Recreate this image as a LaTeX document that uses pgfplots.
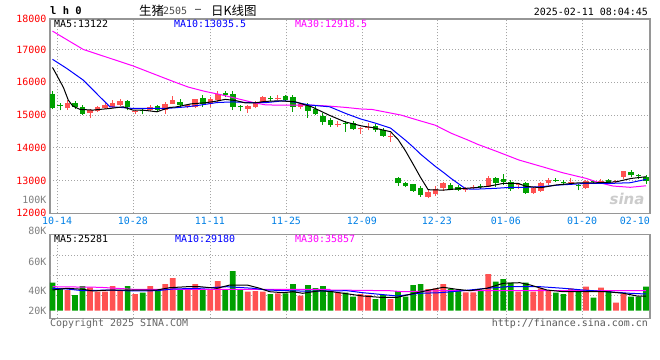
\documentclass[border=0pt]{standalone}
\usepackage{fontspec}
\setmonofont{DejaVu Sans Mono}
\newfontfamily\cjk{Noto Sans CJK SC}
\newfontfamily\dvs{DejaVu Sans}
\newfontfamily\dvsmb{DejaVu Sans Mono Bold}
\usepackage{pgfplots}
\usepackage{pgfplotstable}
\pgfplotsset{compat=1.18}
\definecolor{cred}{RGB}{255,82,82}
\definecolor{cgreen}{RGB}{0,160,0}
\definecolor{cblue}{RGB}{0,0,255}
\definecolor{cmag}{RGB}{255,0,255}
\definecolor{datec}{RGB}{0,128,230}
\definecolor{bord}{RGB}{150,150,150}
\definecolor{gridc}{RGB}{165,165,165}

\pgfplotstableread{
i o c h l
2 15200 15370 15450 15160
5 15060 15160 15190 14915
6 15110 15240 15270 15090
7 15220 15310 15360 15190
8 15240 15360 15460 15210
9 15310 15420 15490 15270
11 15080 15110 15160 15020
13 15160 15250 15290 15120
15 15150 15350 15390 15040
16 15330 15445 15580 15330
18 15230 15290 15310 15200
19 15230 15475 15500 15200
21 15330 15490 15540 15240
22 15450 15630 15720 15390
26 15190 15270 15310 15060
27 15230 15390 15420 15200
28 15400 15550 15580 15370
30 15490 15520 15600 15450
33 15230 15330 15380 15180
38 14700 14730 14820 14630
41 14560 14610 14640 14420
42 14600 14630 14770 14530
45 14330 14360 14440 14190
50 12506 12659 12740 12457
51 12580 12732 12830 12520
52 12770 12910 12950 12690
55 12720 12750 12811 12660
56 12770 12800 12860 12730
58 12811 13067 13130 12790
62 12850 12880 12920 12740
64 12628 12762 12790 12590
65 12690 12915 12955 12665
66 12915 13015 13067 12863
69 12930 12960 13067 12870
71 12775 12985 13010 12750
73 12950 12980 13040 12900
75 12970 13000 13030 12920
76 13116 13290 13290 13050
}\redc

\pgfplotstableread{
i o c h l
0 15630 15220 15740 15170
1 15290 15260 15360 15140
3 15360 15240 15415 15190
4 15240 15040 15290 14990
10 15420 15240 15470 15140
12 15140 15110 15190 15020
14 15270 15150 15310 15110
17 15390 15290 15475 15240
20 15510 15330 15600 15240
23 15660 15620 15730 15540
24 15630 15240 15740 15150
25 15260 15230 15310 15110
29 15510 15480 15590 15430
31 15590 15450 15610 15430
32 15560 15250 15610 15100
34 15300 15130 15360 14920
35 15170 15030 15260 14990
36 14970 14780 15050 14700
37 14840 14700 14920 14630
39 14770 14740 14810 14490
40 14770 14580 14830 14550
43 14670 14540 14720 14490
44 14540 14365 14600 14340
46 13076 12924 13116 12840
47 12933 12833 12960 12790
48 12890 12690 12900 12660
49 12780 12545 12840 12505
53 12863 12732 12910 12700
54 12811 12710 12850 12680
57 12840 12810 12890 12730
59 13067 12933 13116 12811
60 13037 12963 13198 12863
61 12963 12732 13015 12695
63 12915 12628 12955 12590
67 13020 12990 13067 12950
68 12960 12930 13030 12870
70 12860 12830 12900 12700
72 12975 12945 13000 12890
74 13015 12915 13050 12890
77 13260 13160 13310 13110
78 13165 13135 13200 13050
79 13116 12990 13180 12900
}\greenc

\pgfplotstableread{
i v
2 20.7
5 23.4
6 19
7 19
8 24.7
9 20.7
11 16.7
13 24.7
15 26.7
16 32.7
18 21.4
19 26.7
21 21.4
22 29.7
26 19
27 19.7
28 19
30 17.4
33 15
38 18
41 16.7
42 15.7
45 11.7
50 21.7
51 22.4
52 26.7
55 18.4
56 18.4
58 36.7
62 19
64 19
65 22.4
66 20.7
69 22.4
71 24
73 23
75 8
76 16.7
}\redv

\pgfplotstableread{
i v
0 28
1 22.4
3 15.7
4 24.7
10 24.7
12 18
14 20.7
17 21.4
20 21.4
23 21.4
24 39.7
25 21.4
29 16.7
31 17.4
32 26.7
34 25.7
35 22.7
36 24.7
37 19.7
39 18
40 14
43 11.7
44 15.7
46 19.7
47 14
48 25.7
49 26.7
53 21.7
54 20.7
57 19.7
59 29
60 31.7
61 28
63 28
67 18
68 16.7
70 20
72 13
74 19.7
77 14
78 14
79 24
}\greenv

\pgfplotstableread{
i y
0 16450
0.33 16317
1.45 15842
2.1 15455
2.7 15272
3.66 15171
5.4 15150
7.65 15200
9.4 15250
10.7 15150
12 15150
13.9 15098
15.6 15232
16.3 15240
18.5 15342
20.3 15372
21.6 15415
23 15476
24.3 15445
25.6 15372
27 15372
28.3 15415
30.1 15433
32.3 15403
34.5 15250
36.8 14997
38.9 14793
41.2 14662
42.5 14620
45 14490
46 14250
47 13900
48 13500
49 13090
50 12720
52 12707
54 12749
56 12776
58 12823
60 12913
62 12912
63 12824
65 12780
67 12863
70 12930
72 12928
75 12959
77 13063
79 13116
}\mafive

\pgfplotstableread{
i y
0 16700
1.9 16421
4.1 16064
6.3 15555
7.65 15250
9 15232
10.7 15200
13 15200
15.2 15200
17.9 15250
19.6 15300
21.9 15380
24 15400
26.3 15380
28.5 15380
30.7 15433
32 15403
34.3 15302
36.9 15250
39 15049
41 14880
43 14750
45 14600
46 14413
47 14226
48 14023
49 13804
50 13612
51 13424
52 13254
53 13073
54 12908
55 12748
56 12734
59 12762
61 12793
63 12793
65 12811
67.4 12863
69.7 12893
71 12915
74.6 12915
76.9 12933
79 13035
}\maten

\pgfplotstableread{
i y
0 17560
4.1 17000
10.7 16500
15.2 16100
16.3 16003
18.1 15850
20.3 15720
22.5 15616
24.7 15494
26.9 15372
28.3 15311
30 15300
34.5 15302
36.8 15272
39 15232
41.2 15180
42.5 15171
46.4 14997
48.6 14845
50.9 14692
53.1 14440
55.3 14235
56.6 14104
59 13900
62.1 13625
65.2 13421
67.9 13238
71 13067
72.8 12933
74.6 12832
76.9 12793
79 12840
}\mathirty

\begin{document}
\begin{tikzpicture}
\fill[white] (0,0) rectangle (660bp,360bp);
\useasboundingbox (0,0) rectangle (660bp,360bp);

\begin{axis}[
  at={(50bp,146.7bp)}, anchor=south west, scale only axis,
  width=600bp, height=194.3bp,
  xmin=-0.333, xmax=79.53, ymin=12000, ymax=17930,
  scaled ticks=false,
  axis line style={draw=bord, line width=1.5bp},
  major tick length=0pt, tick style={draw=none},
  xtick={0.60,10.71,20.96,31.08,41.19,51.17,60.35,70.48},
  xticklabels={10-14,10-28,11-11,11-25,12-09,12-23,01-06,01-20},
  extra x ticks={77.53}, extra x tick labels={02-10},
  extra x tick style={xmajorgrids=false},
  ytick={12000,13000,14000,15000,16000,17000},
  yticklabels={12000,13000,14000,15000,16000,17000},
  extra y ticks={12405,17930},
  extra y tick labels={\textcolor{gray}{100K},18000},
  extra y tick style={ymajorgrids=false},
  xmajorgrids=true, ymajorgrids=true,
  major grid style={draw=gridc, dash pattern=on 1bp off 2bp, line width=0.8bp},
  tick label style={font=\ttfamily\fontsize{10}{12}\selectfont},
  xticklabel style={text=datec},
  yticklabel style={text=red},
]
\addplot[draw=none, mark=none, forget plot, error bars/.cd, y dir=plus, y explicit, error mark=none,
  error bar style={draw=cred, solid, line width=1bp}]
  table[x=i, y=l, y error expr=\thisrow{h}-\thisrow{l}] {\redc};
\addplot[draw=none, mark=none, forget plot, error bars/.cd, y dir=plus, y explicit, error mark=none,
  error bar style={draw=cred, solid, line width=5.5bp}]
  table[x=i, y=o, y error expr=\thisrow{c}-\thisrow{o}] {\redc};
\addplot[draw=none, mark=none, forget plot, error bars/.cd, y dir=plus, y explicit, error mark=none,
  error bar style={draw=cgreen, solid, line width=1bp}]
  table[x=i, y=l, y error expr=\thisrow{h}-\thisrow{l}] {\greenc};
\addplot[draw=none, mark=none, forget plot, error bars/.cd, y dir=plus, y explicit, error mark=none,
  error bar style={draw=cgreen, solid, line width=5.5bp}]
  table[x=i, y=c, y error expr=\thisrow{o}-\thisrow{c}] {\greenc};
\addplot[cmag, line width=1bp, mark=none] table[x=i,y=y] {\mathirty};
\addplot[cblue, line width=1bp, mark=none] table[x=i,y=y] {\maten};
\addplot[black, line width=1bp, mark=none] table[x=i,y=y] {\mafive};
\end{axis}

\begin{axis}[
  at={(50bp,41.7bp)}, anchor=south west, scale only axis,
  width=600bp, height=84bp,
  xmin=-0.333, xmax=79.53, ymin=-7.6, ymax=76.4,
  scaled ticks=false,
  axis line style={draw=bord, line width=1.5bp},
  major tick length=0pt, tick style={draw=none},
  xtick={0.60,10.71,20.96,31.08,41.19,51.17,60.35,70.48},
  xticklabels={,,,,,,,},
  ytick={74.7,43.7,14.7,-5.3},
  yticklabels={80K,60K,40K,20K},
  yticklabel style={text=gray, yshift=5bp},
  extra y ticks={15.7,35.7,55.7}, extra y tick labels={,,},
  extra y tick style={ymajorgrids=true},
  xmajorgrids=true, ymajorgrids=false,
  major grid style={draw=gridc, dash pattern=on 1bp off 2bp, line width=0.8bp},
  tick label style={font=\ttfamily\fontsize{10}{12}\selectfont},
]
\addplot[ybar, bar width=5.7bp, bar shift=0pt, fill=cred, draw=none] table[x=i,y=v] {\redv};
\addplot[ybar, bar width=5.7bp, bar shift=0pt, fill=cgreen, draw=none] table[x=i,y=v] {\greenv};
\addplot[cmag, line width=1bp, mark=none] table {
0 24
6.3 23.4
10.7 21.4
19.6 21.4
28.5 21.4
36.9 21.4
37 20.7
44.9 20
46.6 19
51.6 20
58.2 20
79 20
};
\addplot[cblue, line width=1bp, mark=none] table {
0 22.4
1.9 21.7
4.1 20
7.65 20.7
10.7 19.7
13.9 20
16 21.7
19.6 22.4
23.2 24
26.7 22.4
28.5 20.7
31.2 20
32.9 19.7
35.6 19.7
39.2 20
41.3 18
45.9 14.7
48.9 17.4
51.6 18
54.6 20
57.8 22.4
60.5 24
64.9 24
68 22.4
70.6 20.7
73.8 19
76.9 17.4
79 16.7
};
\addplot[black, line width=1bp, mark=none] table {
0 20.7
1.9 22.4
4.1 21.4
5.4 19.7
7.65 20.7
10.7 20.7
13.9 20.7
15.6 23
17.9 24
19.6 24
21.9 22.4
23.6 25.7
25.9 25.7
27.6 22.4
28.9 19
30.7 18
32 19
33.3 17.4
35.6 20
37.2 19
41.3 14.7
43.6 13.4
45.9 13.4
48.5 18
50.2 20.7
52 23.4
53.8 21.4
55.6 20
57.8 22.4
60 27.4
62.2 28
63.6 25.7
65.8 20.7
68 19
70.2 19
72.5 19
73.8 19
76 17.4
77.8 14.7
79 14.7
};
\end{axis}

% header texts
\node[anchor=west, inner sep=0, font=\dvsmb\fontsize{10.5}{10.5}\selectfont] at (50bp,349bp) {l h 0};
\node[anchor=west, inner sep=0, font=\cjk\fontsize{12.5}{12.5}\selectfont] at (139bp,349bp) {生猪};
\node[anchor=west, inner sep=0, font=\ttfamily\fontsize{10}{10}\selectfont, text=black!70] at (163bp,349bp) {2505};
\node[anchor=center, inner sep=0, font=\ttfamily\fontsize{10}{10}\selectfont] at (198bp,349bp) {–};
\node[anchor=west, inner sep=0, font=\cjk\fontsize{12.5}{12.5}\selectfont] at (211bp,349bp) {日K线图};
\node[anchor=east, inner sep=0, font=\ttfamily\fontsize{10}{10}\selectfont] at (648bp,348bp) {2025-02-11 08:04:45};
% main legend
\node[anchor=west, inner sep=0, font=\ttfamily\fontsize{10}{10}\selectfont] at (54bp,336.5bp) {MA5:13122};
\node[anchor=west, inner sep=0, font=\ttfamily\fontsize{10}{10}\selectfont, text=cblue] at (174bp,336.5bp) {MA10:13035.5};
\node[anchor=west, inner sep=0, font=\ttfamily\fontsize{10}{10}\selectfont, text=cmag] at (295bp,336.5bp) {MA30:12918.5};
% volume legend
\node[anchor=west, inner sep=0, font=\ttfamily\fontsize{10}{10}\selectfont] at (54bp,121bp) {MA5:25281};
\node[anchor=west, inner sep=0, font=\ttfamily\fontsize{10}{10}\selectfont, text=cblue] at (175bp,121bp) {MA10:29180};
\node[anchor=west, inner sep=0, font=\ttfamily\fontsize{10}{10}\selectfont, text=cmag] at (295bp,121bp) {MA30:35857};
% footer
\node[anchor=west, inner sep=0, font=\ttfamily\fontsize{10}{10}\selectfont, text=black!60] at (50bp,36bp) {Copyright 2025 SINA.COM};
\node[anchor=east, inner sep=0, font=\ttfamily\fontsize{10}{10}\selectfont, text=black!65] at (648bp,36bp) {http://finance.sina.com.cn};
% watermark
\node[anchor=center, inner sep=0, font=\dvs\bfseries\itshape\fontsize{15}{15}\selectfont, text=gray!40] at (627bp,161bp) {sina};
\end{tikzpicture}
\end{document}
